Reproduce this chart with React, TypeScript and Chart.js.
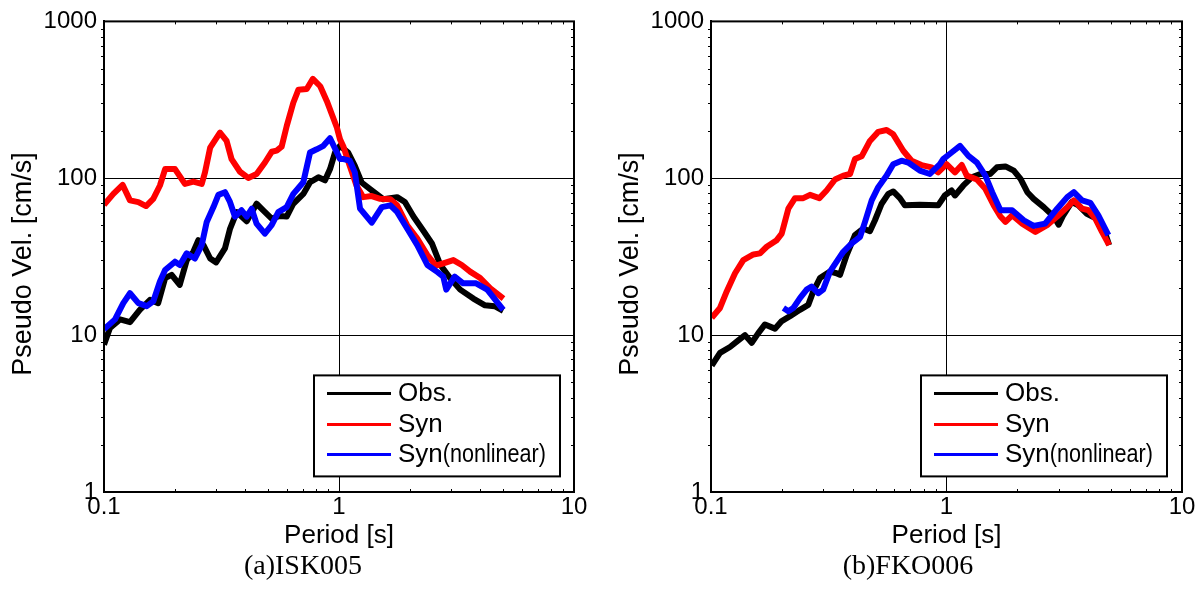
import React, { useEffect, useRef } from "react";
import { Chart, registerables } from "chart.js";

Chart.register(...registerables);

// ---------- axis / labels ----------
const xTicks = [0.1, 1, 10];
const yTicks = [1, 10, 100, 1000];
const seriesNames = ["Obs.", "Syn", "Syn(nonlinear)"];
const seriesColors = ["#000000", "#ff0000", "#0000ff"];
const xTitle = "Period [s]";
const yTitle = "Pseudo Vel. [cm/s]";
const captions = ["(a)ISK005", "(b)FKO006"];

// ---------- (a) ISK005 ----------
const iskObsT = [0.1, 0.106, 0.117, 0.129, 0.142, 0.157, 0.17, 0.182, 0.194, 0.21, 0.225, 0.24, 0.252, 0.265, 0.283, 0.3, 0.327, 0.344, 0.367, 0.405, 0.446, 0.476, 0.517, 0.561, 0.599, 0.639, 0.705, 0.753, 0.817, 0.872, 0.916, 0.962, 1.01, 1.094, 1.168, 1.248, 1.378, 1.543, 1.767, 1.907, 2.074, 2.304, 2.485, 2.701, 2.969, 3.279, 3.73, 4.18, 4.594, 5.0];
const iskObsV = [8.7, 11.1, 12.6, 12.1, 14.5, 16.8, 16.0, 23.1, 24.2, 20.9, 30.1, 34, 40.3, 37.5, 30.8, 29.1, 35.7, 47.8, 60.9, 53.2, 68.8, 62.5, 55.3, 57.5, 57, 68.8, 79.5, 94.3, 101.4, 97, 114.5, 146, 161, 146, 120, 94, 83.6, 73.5, 75.8, 70.6, 57, 45.5, 38.4, 28, 23.1, 19.5, 17.1, 15.5, 15.3, 14.3];

const iskSynT = [0.1, 0.1096, 0.12, 0.129, 0.14, 0.151, 0.162, 0.173, 0.182, 0.2005, 0.221, 0.24, 0.2605, 0.269, 0.283, 0.3115, 0.3325, 0.349, 0.379, 0.411, 0.446, 0.484, 0.517, 0.543, 0.57, 0.599, 0.639, 0.672, 0.729, 0.774, 0.832, 0.888, 0.933, 0.98, 1.01, 1.046, 1.111, 1.187, 1.268, 1.378, 1.497, 1.654, 1.767, 1.95, 2.153, 2.377, 2.583, 2.778, 3.066, 3.33, 3.615, 3.99, 4.404, 5.01];
const iskSynV = [67.8, 79.5, 90.7, 72.3, 70.5, 66.5, 73.9, 89.9, 114.5, 114.5, 92, 95.3, 92, 109, 157, 195.5, 173, 132.5, 110, 100.5, 106.5, 126, 147.5, 150, 159, 215, 303, 367, 371, 430, 386, 310, 255, 210, 177, 158, 120, 90, 75.8, 77, 74, 73.5, 67.2, 50.2, 41.3, 32.4, 27.7, 28.7, 30.1, 28, 25.4, 23.1, 19.9, 17.1];

const iskNlT = [0.1, 0.1114, 0.1208, 0.129, 0.14, 0.152, 0.162, 0.173, 0.182, 0.2005, 0.2104, 0.2248, 0.2438, 0.2605, 0.2736, 0.2922, 0.3067, 0.3272, 0.3436, 0.3607, 0.3849, 0.4048, 0.425, 0.4458, 0.4837, 0.5168, 0.5517, 0.5988, 0.6393, 0.7048, 0.7529, 0.8036, 0.8581, 0.9158, 0.98, 1.01, 1.046, 1.111, 1.168, 1.229, 1.378, 1.521, 1.654, 1.767, 1.95, 2.153, 2.377, 2.627, 2.778, 2.86, 3.105, 3.376, 3.833, 4.275, 5.0];
const iskNlV = [10.9, 12.6, 16.0, 18.5, 16.0, 15.3, 16.4, 22, 26, 29.4, 28, 33.2, 30.8, 37.5, 52.7, 65.5, 78.4, 81.5, 70.6, 57, 62.5, 57, 63.9, 51.4, 44.4, 50.2, 60.9, 65.5, 79.5, 94.3, 146, 153, 161, 180, 146, 132.5, 132.5, 129.4, 109, 64, 52.1, 65.5, 67.2, 61, 47.8, 37.5, 28, 25.2, 23.6, 19.5, 23.6, 21.4, 21.4, 19.5, 14.5];

// ---------- (b) FKO006 ----------
const fkoObsT = [0.1007, 0.1092, 0.1204, 0.1306, 0.1394, 0.1489, 0.1588, 0.1695, 0.1869, 0.1997, 0.2166, 0.2386, 0.2588, 0.2718, 0.2902, 0.32, 0.3415, 0.3528, 0.3767, 0.4085, 0.443, 0.4729, 0.4968, 0.5305, 0.566, 0.594, 0.634, 0.6658, 0.7706, 0.9215, 0.9836, 1.0509, 1.0862, 1.1796, 1.2806, 1.3905, 1.534, 1.6368, 1.7802, 1.9302, 2.0627, 2.2042, 2.3445, 2.587, 2.855, 2.994, 3.1322, 3.4049, 3.6336, 3.9465, 4.2855, 4.6467, 4.9056];
const fkoObsV = [6.4, 7.7, 8.4, 9.26, 10, 8.94, 10.3, 11.7, 11.0, 12.3, 13.2, 14.5, 15.6, 19, 23.1, 25.4, 24.8, 24.2, 32.4, 43.4, 47.8, 46, 54, 68.8, 79.5, 82.4, 74.7, 67.2, 67.8, 67.2, 77.7, 83.6, 77.7, 90, 101.4, 106.5, 106.5, 117.4, 119, 111.9, 99, 81.5, 73.9, 65.5, 57, 50.6, 58.1, 70.6, 67.2, 59.4, 55.8, 47.8, 37.5];

const fkoSynT = [0.1007, 0.1092, 0.1166, 0.1265, 0.1371, 0.1513, 0.1614, 0.1724, 0.1901, 0.1997, 0.213, 0.2274, 0.2465, 0.2633, 0.2885, 0.3096, 0.3362, 0.3646, 0.3893, 0.4085, 0.4361, 0.4729, 0.513, 0.5568, 0.594, 0.6551, 0.7107, 0.7832, 0.8644, 0.9215, 1.0004, 1.0862, 1.161, 1.2197, 1.3466, 1.4621, 1.5876, 1.6946, 1.7802, 1.8997, 2.0962, 2.3858, 2.6736, 2.951, 3.2564, 3.4735, 3.7645, 4.0155, 4.2855, 4.574, 4.9056];
const fkoSynV = [12.9, 14.9, 19, 24.8, 30.1, 32.7, 33.2, 36.6, 40.3, 44.4, 64, 74.7, 74.7, 78.4, 74.7, 83.6, 98.2, 104, 106.5, 132.5, 138, 173, 197.5, 203, 190.6, 149.7, 129.4, 121.4, 117.4, 109, 123, 109, 121.4, 104, 98.2, 85.6, 67.2, 57, 52.7, 58.1, 51.4, 45.5, 50.2, 57, 65.5, 72.3, 64, 62.5, 55.3, 45.5, 37.5];

const fkoNlT = [0.203, 0.213, 0.2236, 0.2386, 0.2548, 0.2674, 0.2852, 0.2993, 0.32, 0.3415, 0.3646, 0.3958, 0.4295, 0.4508, 0.4812, 0.513, 0.5568, 0.594, 0.6446, 0.6879, 0.7706, 0.8502, 0.9376, 0.9679, 1.0509, 1.1413, 1.2393, 1.3466, 1.4621, 1.5627, 1.6946, 1.8997, 2.1285, 2.3445, 2.622, 2.951, 3.2564, 3.4735, 3.7645, 4.0815, 4.4123, 4.8674];
const fkoNlV = [14.9, 14.2, 14.9, 17.2, 19.5, 20.4, 18.5, 19.5, 25.4, 29.4, 34, 38.4, 42.3, 52.7, 72.3, 87.7, 104, 123, 129.4, 126, 111.9, 106.5, 123, 132.5, 146, 161, 139, 126, 104, 81.5, 62.5, 62.5, 54, 49.7, 51.4, 64, 75.8, 81.5, 72.3, 69.8, 58.1, 43.4];

const W = 602;
const H = 589;

type PanelCfg = {
  plotLeft: number;
  plotRight: number;
  captionX: number;
  caption: string;
  series: { t: number[]; v: number[] }[];
};

const panels: PanelCfg[] = [
  {
    plotLeft: 104,
    plotRight: 574,
    captionX: 303,
    caption: captions[0],
    series: [
      { t: iskObsT, v: iskObsV },
      { t: iskSynT, v: iskSynV },
      { t: iskNlT, v: iskNlV },
    ],
  },
  {
    plotLeft: 109,
    plotRight: 580,
    captionX: 306,
    caption: captions[1],
    series: [
      { t: fkoObsT, v: fkoObsV },
      { t: fkoSynT, v: fkoSynV },
      { t: fkoNlT, v: fkoNlV },
    ],
  },
];

const SANS = '"Liberation Sans", Arial, sans-serif';
const SERIF = '"Liberation Serif", "Times New Roman", serif';

function makeDecor(cfg: PanelCfg) {
  return {
    id: "decor",
    afterDraw(chart: any) {
      const { ctx, chartArea: a } = chart;
      const xs = chart.scales.x;
      const ys = chart.scales.y;
      ctx.save();
      // frame
      ctx.strokeStyle = "#000";
      ctx.lineWidth = 2;
      ctx.strokeRect(a.left, a.top, a.right - a.left, a.bottom - a.top);

      // minor ticks
      ctx.lineWidth = 1;
      ctx.beginPath();
      for (let d = -1; d < 1; d++) {
        for (let k = 2; k <= 9; k++) {
          const px = Math.round(xs.getPixelForValue(k * Math.pow(10, d))) + 0.5;
          ctx.moveTo(px, a.bottom);
          ctx.lineTo(px, a.bottom - 3);
          ctx.moveTo(px, a.top);
          ctx.lineTo(px, a.top + 3);
        }
      }
      for (let d = 0; d < 3; d++) {
        for (let k = 2; k <= 9; k++) {
          const py = Math.round(ys.getPixelForValue(k * Math.pow(10, d))) + 0.5;
          ctx.moveTo(a.left - 3, py);
          ctx.lineTo(a.left, py);
          ctx.moveTo(a.right, py);
          ctx.lineTo(a.right - 3, py);
        }
      }
      ctx.stroke();

      // legend
      const lx = a.left + 210;
      const ly = a.top + 354;
      const lw = 246;
      const lh = 101;
      ctx.fillStyle = "#fff";
      ctx.fillRect(lx, ly, lw, lh);
      ctx.lineWidth = 2;
      ctx.strokeStyle = "#000";
      ctx.strokeRect(lx, ly, lw, lh);
      const rows = [18, 49, 79];
      ctx.font = `26px ${SANS}`;
      ctx.textBaseline = "middle";
      ctx.textAlign = "left";
      seriesNames.forEach((name, i) => {
        const y = ly + rows[i];
        ctx.strokeStyle = seriesColors[i];
        ctx.lineWidth = 3;
        ctx.beginPath();
        ctx.moveTo(lx + 13, y);
        ctx.lineTo(lx + 77, y);
        ctx.stroke();
        ctx.fillStyle = "#000";
        const p = name.indexOf("(");
        if (p < 0) {
          ctx.fillText(name, lx + 84, y);
        } else {
          const main = name.slice(0, p);
          const rest = name.slice(p);
          ctx.fillText(main, lx + 84, y);
          const w = ctx.measureText(main).width;
          ctx.save();
          ctx.translate(lx + 84 + w, y);
          ctx.scale(0.83, 1);
          ctx.fillText(rest, 0, 0);
          ctx.restore();
        }
      });

      // axis titles
      ctx.fillStyle = "#000";
      ctx.font = `26px ${SANS}`;
      ctx.textAlign = "center";
      ctx.textBaseline = "middle";
      ctx.fillText(xTitle, (a.left + a.right) / 2, 536);
      ctx.save();
      ctx.translate(a.left - 73, 264);
      ctx.rotate(-Math.PI / 2);
      ctx.font = `27px ${SANS}`;
      ctx.textBaseline = "alphabetic";
      ctx.fillText(yTitle, 0, 0);
      ctx.restore();

      // caption
      ctx.font = `28px ${SERIF}`;
      ctx.textBaseline = "middle";
      ctx.fillText(cfg.caption, cfg.captionX, 567);
      ctx.restore();
    },
  };
}

function buildConfig(cfg: PanelCfg): any {
  const order = [3, 2, 1];
  const datasets = cfg.series.map((s, i) => ({
    label: seriesNames[i],
    data: s.t.map((t, j) => ({ x: t, y: s.v[j] })),
    borderColor: seriesColors[i],
    backgroundColor: seriesColors[i],
    borderWidth: 6,
    pointRadius: 0,
    tension: 0,
    fill: false,
    borderJoinStyle: "round",
    order: order[i],
  }));
  return {
    type: "line",
    data: { datasets },
    plugins: [makeDecor(cfg)],
    options: {
      animation: false,
      responsive: false,
      devicePixelRatio: 1,
      layout: { padding: { top: 18, right: W - cfg.plotRight, left: 0, bottom: 0 } },
      plugins: { legend: { display: false }, tooltip: { enabled: false } },
      scales: {
        x: {
          type: "logarithmic",
          min: 0.1,
          max: 10,
          afterBuildTicks: (s: any) => {
            s.ticks = xTicks.map((v) => ({ value: v }));
          },
          afterFit: (s: any) => {
            s.height = H - 492;
          },
          grid: { color: "#000", lineWidth: 1, drawTicks: false },
          border: { display: true, color: "#000", width: 2 },
          ticks: {
            autoSkip: false,
            maxRotation: 0,
            padding: 1,
            color: "#000",
            font: { family: SANS, size: 24 },
            callback: (v: any) => String(v),
          },
        },
        y: {
          type: "logarithmic",
          min: 1,
          max: 1000,
          afterBuildTicks: (s: any) => {
            s.ticks = yTicks.map((v) => ({ value: v }));
          },
          afterFit: (s: any) => {
            s.width = cfg.plotLeft;
          },
          grid: { color: "#000", lineWidth: 1, drawTicks: false },
          border: { display: true, color: "#000", width: 2 },
          ticks: {
            autoSkip: false,
            padding: 7,
            color: "#000",
            font: { family: SANS, size: 24 },
            callback: (v: any) => String(v),
          },
        },
      },
    },
  };
}

function Panel({ cfg }: { cfg: PanelCfg }) {
  const ref = useRef<HTMLCanvasElement>(null);
  useEffect(() => {
    const chart = new Chart(ref.current as HTMLCanvasElement, buildConfig(cfg));
    return () => chart.destroy();
  }, [cfg]);
  return <canvas ref={ref} width={W} height={H} style={{ display: "block", width: W, height: H }} />;
}

export default function App() {
  return (
    <div
      style={{
        position: "absolute",
        left: 0,
        top: 0,
        width: 1204,
        height: 589,
        display: "flex",
        background: "#fff",
      }}
    >
      <Panel cfg={panels[0]} />
      <Panel cfg={panels[1]} />
    </div>
  );
}
